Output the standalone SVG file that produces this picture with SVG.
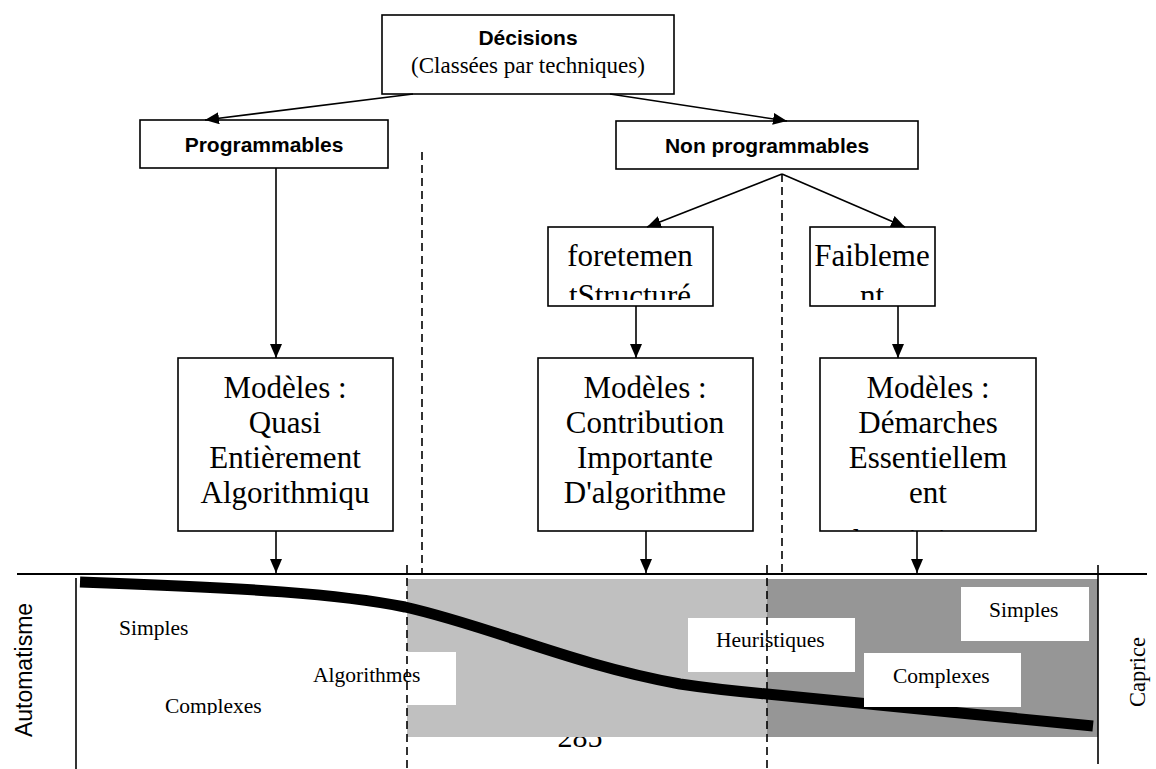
<svg xmlns="http://www.w3.org/2000/svg" width="1156" height="769" viewBox="0 0 1156 769">
<style>
.box{fill:#fff;stroke:#000;stroke-width:1.6}
.hs{font-family:"Liberation Sans",Arial,sans-serif;font-weight:bold;font-size:21px;text-anchor:middle}
.ser{font-family:"Liberation Serif","Times New Roman",serif}
.big{font-size:31px;text-anchor:middle}
.sm{font-size:21.5px}
.con{stroke:#000;stroke-width:1.6;fill:none}
.dash{stroke:#000;stroke-width:1.6;stroke-dasharray:8 5;fill:none}
</style>
<defs>
<marker id="arr" viewBox="0 0 14 12" refX="14" refY="6" markerWidth="14" markerHeight="12" markerUnits="userSpaceOnUse" orient="auto">
<path d="M0,0 L14,6 L0,12 z" fill="#000"/>
</marker>
<clipPath id="cFort"><rect x="548" y="227" width="165" height="73"/></clipPath>
<clipPath id="cFaib"><rect x="810" y="227" width="125" height="73"/></clipPath>
<clipPath id="cM1"><rect x="178" y="358" width="215" height="165"/></clipPath>
<clipPath id="cM2"><rect x="538" y="358" width="215" height="165"/></clipPath>
<clipPath id="cM3"><rect x="820" y="358" width="216" height="173"/></clipPath>
<clipPath id="cLow"><rect x="0" y="560" width="1156" height="155"/></clipPath>
</defs>

<!-- page number partly hidden -->
<text class="ser" x="580" y="747" font-size="30" text-anchor="middle">285</text>

<!-- bottom scale background -->
<g id="scale">
<rect x="407" y="579" width="360" height="158" fill="#c0c0c0"/>
<rect x="767" y="579" width="331" height="158" fill="#969696"/>
<line x1="17" y1="574" x2="1147" y2="574" stroke="#000" stroke-width="2"/>
<line x1="76" y1="578" x2="76" y2="769" stroke="#000" stroke-width="1.6"/>
<line x1="1098" y1="565" x2="1098" y2="764" stroke="#000" stroke-width="1.6"/>
<path d="M80,582 C250,588 340,594 405,607 C490,626 570,664 680,684 C720,690 745,692 767,694 L1093,726" stroke="#000" stroke-width="11" fill="none"/>
</g>

<g id="zone-labels">
<text class="ser sm" x="119" y="635">Simples</text>
<text class="ser sm" x="165" y="713" clip-path="url(#cLow)">Complexes</text>
<rect x="290" y="652" width="166" height="53" fill="#fff"/>
<text class="ser sm" x="313" y="682">Algorithmes</text>
<rect x="688" y="618" width="167" height="54" fill="#fff"/>
<text class="ser sm" x="716" y="647">Heuristiques</text>
<rect x="961" y="587" width="128" height="54" fill="#fff"/>
<text class="ser sm" x="989" y="617">Simples</text>
<rect x="864" y="653" width="157" height="54" fill="#fff"/>
<text class="ser sm" x="893" y="683">Complexes</text>
<text transform="translate(32,670) rotate(-90)" font-family="Liberation Sans, Arial, sans-serif" font-size="23" text-anchor="middle">Automatisme</text>
<text transform="translate(1145,672) rotate(-90)" class="ser" font-size="22.5" text-anchor="middle">Caprice</text>
</g>

<!-- nodes -->
<g id="decisions">
<rect class="box" x="382" y="15" width="292" height="79"/>
<text class="hs" x="528" y="45">Décisions</text>
<text class="ser" x="528" y="73" font-size="23" text-anchor="middle">(Classées par techniques)</text>
</g>
<g id="programmables">
<rect class="box" x="140" y="120" width="248" height="48"/>
<text class="hs" x="264" y="152">Programmables</text>
</g>
<g id="non-programmables">
<rect class="box" x="616" y="121" width="302" height="48"/>
<text class="hs" x="767" y="153">Non programmables</text>
</g>
<g id="fortement">
<rect class="box" x="548" y="227" width="165" height="79"/>
<g clip-path="url(#cFort)">
<text class="ser big" x="630" y="266">foretemen</text>
<text class="ser big" x="630" y="306">tStructuré</text>
</g>
</g>
<g id="faiblement">
<rect class="box" x="810" y="227" width="125" height="79"/>
<g clip-path="url(#cFaib)">
<text class="ser big" x="872" y="266">Faibleme</text>
<text class="ser big" x="872" y="306">nt</text>
</g>
</g>
<g id="modeles-algo">
<rect class="box" x="178" y="358" width="215" height="173"/>
<g clip-path="url(#cM1)">
<text class="ser big" x="285" y="398">Modèles :</text>
<text class="ser big" x="285" y="433">Quasi</text>
<text class="ser big" x="285" y="468">Entièrement</text>
<text class="ser big" x="285" y="503">Algorithmiqu</text>
</g>
</g>
<g id="modeles-contrib">
<rect class="box" x="538" y="358" width="215" height="173"/>
<g clip-path="url(#cM2)">
<text class="ser big" x="645" y="398">Modèles :</text>
<text class="ser big" x="645" y="433">Contribution</text>
<text class="ser big" x="645" y="468">Importante</text>
<text class="ser big" x="645" y="503">D'algorithme</text>
</g>
</g>
<g id="modeles-demarches">
<rect class="box" x="820" y="358" width="216" height="173"/>
<g clip-path="url(#cM3)">
<text class="ser big" x="928" y="398">Modèles :</text>
<text class="ser big" x="928" y="433">Démarches</text>
<text class="ser big" x="928" y="468">Essentiellem</text>
<text class="ser big" x="928" y="503">ent</text>
<text class="ser big" x="928" y="551">heuristiques</text>
</g>
</g>

<!-- connectors -->
<g id="connectors">
<path class="con" d="M413,94 L205,120" marker-end="url(#arr)"/>
<path class="con" d="M610,94 L787,121" marker-end="url(#arr)"/>
<path class="con" d="M276,168 L276,358" marker-end="url(#arr)"/>
<path class="con" d="M782,174 L647,227" marker-end="url(#arr)"/>
<path class="con" d="M782,174 L905,227" marker-end="url(#arr)"/>
<path class="con" d="M636,306 L636,358" marker-end="url(#arr)"/>
<path class="con" d="M898,306 L898,358" marker-end="url(#arr)"/>
<path class="con" d="M276,531 L276,573" marker-end="url(#arr)"/>
<path class="con" d="M646,531 L646,573" marker-end="url(#arr)"/>
<path class="con" d="M917,531 L917,573" marker-end="url(#arr)"/>
<path class="dash" d="M422,152 L422,573"/>
<path class="dash" d="M782,174 L782,573"/>
<path class="dash" d="M407,565 L407,769"/>
<path class="dash" d="M767,565 L767,769"/>
</g>
</svg>
